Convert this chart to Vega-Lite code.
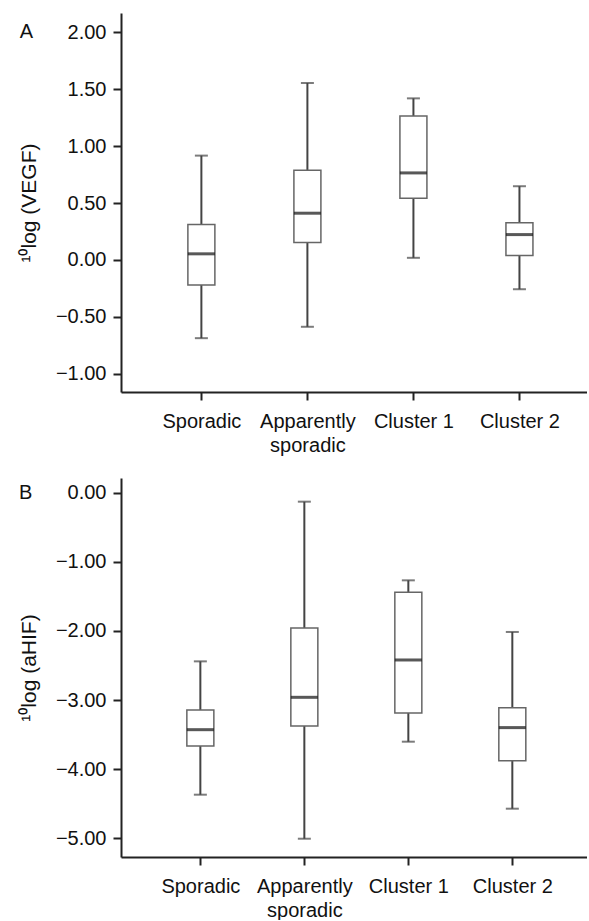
{
  "$schema": "https://vega.github.io/schema/vega-lite/v6.json",
  "padding": {"left": 18, "top": 13, "right": 0, "bottom": 0},
  "spacing": 23,
  "background": "white",
  "datasets": {
    "boxes": [
      {"panel": "A", "group": 1, "lo": -0.687, "q1": -0.219, "med": 0.054, "q3": 0.311, "hi": 0.917},
      {"panel": "A", "group": 2, "lo": -0.587, "q1": 0.153, "med": 0.411, "q3": 0.788, "hi": 1.555},
      {"panel": "A", "group": 3, "lo": 0.019, "q1": 0.542, "med": 0.765, "q3": 1.265, "hi": 1.42},
      {"panel": "A", "group": 4, "lo": -0.257, "q1": 0.039, "med": 0.223, "q3": 0.326, "hi": 0.648},
      {"panel": "B", "group": 1, "lo": -4.372, "q1": -3.667, "med": -3.43, "q3": -3.145, "hi": -2.44},
      {"panel": "B", "group": 2, "lo": -5.01, "q1": -3.377, "med": -2.961, "q3": -1.957, "hi": -0.126},
      {"panel": "B", "group": 3, "lo": -3.604, "q1": -3.188, "med": -2.42, "q3": -1.44, "hi": -1.266},
      {"panel": "B", "group": 4, "lo": -4.575, "q1": -3.879, "med": -3.4, "q3": -3.111, "hi": -2.014}
    ]
  },
  "vconcat": [
    {
      "width": 466,
      "height": 379,
      "data": {"name": "boxes"},
      "transform": [{"filter": "datum.panel == 'A'"}],
      "encoding": {
        "x": {"field": "group", "type": "quantitative", "scale": {"domain": [0.289, 4.59], "nice": false, "zero": false},
          "axis": {"values": [1, 2, 3, 4], "title": null, "labelPadding": 11, "labelExpr": "datum.value == 1 ? 'Sporadic' : datum.value == 2 ? ['Apparently', 'sporadic'] : datum.value == 3 ? 'Cluster 1' : 'Cluster 2'"}}
      },
      "layer": [
        {"mark": {"type": "rule", "color": "#444", "strokeWidth": 2},
          "encoding": {"y": {"field": "lo", "type": "quantitative", "scale": {"domain": [-1.16, 2.17], "nice": false, "zero": false},
            "axis": {"values": [-1, -0.5, 0, 0.5, 1, 1.5, 2], "format": ".2f", "title": "¹⁰log (VEGF)"}}, "y2": {"field": "hi"}}},
        {"mark": {"type": "bar", "size": 27, "fill": "white", "stroke": "#666", "strokeWidth": 1.5},
          "encoding": {"y": {"field": "q1", "type": "quantitative"}, "y2": {"field": "q3"}}},
        {"mark": {"type": "tick", "orient": "horizontal", "size": 27, "thickness": 3, "color": "#111"},
          "encoding": {"y": {"field": "med", "type": "quantitative"}}},
        {"mark": {"type": "tick", "orient": "horizontal", "size": 13, "thickness": 2, "color": "#444"},
          "encoding": {"y": {"field": "lo", "type": "quantitative"}}},
        {"mark": {"type": "tick", "orient": "horizontal", "size": 13, "thickness": 2, "color": "#444"},
          "encoding": {"y": {"field": "hi", "type": "quantitative"}}},
        {"data": {"values": [{"label": "A", "px": -0.65, "py": 2.0}]},
          "transform": [],
          "mark": {"type": "text", "fontSize": 20, "font": "Liberation Sans", "color": "#111", "align": "center", "baseline": "middle"},
          "encoding": {"x": {"field": "px", "type": "quantitative"}, "y": {"field": "py", "type": "quantitative"}, "text": {"field": "label"}}}
      ]
    },
    {
      "width": 466,
      "height": 379,
      "data": {"name": "boxes"},
      "transform": [{"filter": "datum.panel == 'B'"}],
      "encoding": {
        "x": {"field": "group", "type": "quantitative", "scale": {"domain": [0.285, 4.67], "nice": false, "zero": false},
          "axis": {"values": [1, 2, 3, 4], "title": null, "labelPadding": 11, "labelExpr": "datum.value == 1 ? 'Sporadic' : datum.value == 2 ? ['Apparently', 'sporadic'] : datum.value == 3 ? 'Cluster 1' : 'Cluster 2'"}}
      },
      "layer": [
        {"mark": {"type": "rule", "color": "#444", "strokeWidth": 2},
          "encoding": {"y": {"field": "lo", "type": "quantitative", "scale": {"domain": [-5.275, 0.217], "nice": false, "zero": false},
            "axis": {"values": [-5, -4, -3, -2, -1, 0], "format": ".2f", "title": "¹⁰log (aHIF)"}}, "y2": {"field": "hi"}}},
        {"mark": {"type": "bar", "size": 27, "fill": "white", "stroke": "#666", "strokeWidth": 1.5},
          "encoding": {"y": {"field": "q1", "type": "quantitative"}, "y2": {"field": "q3"}}},
        {"mark": {"type": "tick", "orient": "horizontal", "size": 27, "thickness": 3, "color": "#111"},
          "encoding": {"y": {"field": "med", "type": "quantitative"}}},
        {"mark": {"type": "tick", "orient": "horizontal", "size": 13, "thickness": 2, "color": "#444"},
          "encoding": {"y": {"field": "lo", "type": "quantitative"}}},
        {"mark": {"type": "tick", "orient": "horizontal", "size": 13, "thickness": 2, "color": "#444"},
          "encoding": {"y": {"field": "hi", "type": "quantitative"}}},
        {"data": {"values": [{"label": "B", "px": -0.68, "py": 0.0}]},
          "transform": [],
          "mark": {"type": "text", "fontSize": 20, "font": "Liberation Sans", "color": "#111", "align": "center", "baseline": "middle"},
          "encoding": {"x": {"field": "px", "type": "quantitative"}, "y": {"field": "py", "type": "quantitative"}, "text": {"field": "label"}}}
      ]
    }
  ],
  "config": {
    "view": {"stroke": null},
    "font": "Liberation Sans",
    "axis": {
      "labelFont": "Liberation Sans", "titleFont": "Liberation Sans",
      "labelFontSize": 20, "titleFontSize": 21, "titleFontWeight": "normal",
      "labelColor": "#111", "titleColor": "#111",
      "domainColor": "#222", "domainWidth": 2,
      "tickColor": "#222", "tickWidth": 2, "tickSize": 8,
      "labelPadding": 7, "grid": false, "labelLineHeight": 24
    },
    "axisY": {"titlePadding": 16}
  }
}
